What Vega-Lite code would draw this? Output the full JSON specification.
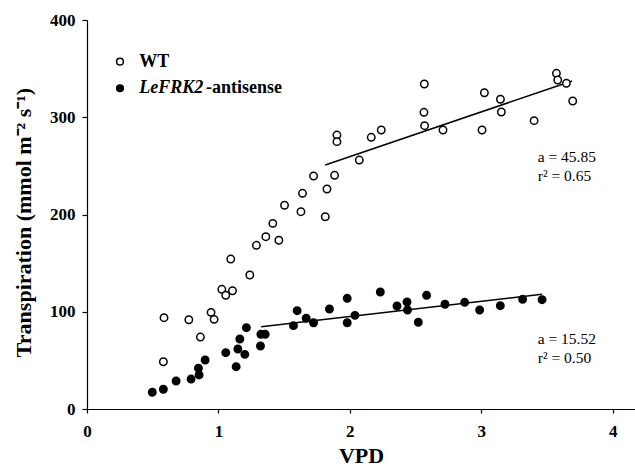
{
  "$schema": "https://vega.github.io/schema/vega-lite/v6.json",
  "autosize": "none",
  "width": 548,
  "height": 389,
  "padding": {"left": 87, "top": 20, "right": 0, "bottom": 59},
  "background": "white",
  "config": {
    "view": {"stroke": null},
    "font": "Liberation Serif",
    "axis": {
      "grid": false,
      "domainColor": "black",
      "domainWidth": 1.2,
      "tickColor": "black",
      "tickWidth": 1.2,
      "labelFont": "Liberation Serif",
      "labelFontWeight": "bold",
      "labelFontSize": 17,
      "labelColor": "black",
      "titleFont": "Liberation Serif",
      "titleFontWeight": "bold",
      "titleFontSize": 22,
      "titleColor": "black"
    }
  },
  "datasets": {
    "pts": [
      {"series": "WT", "vpd": 0.581, "trans": 48.6},
      {"series": "WT", "vpd": 0.586, "trans": 93.9},
      {"series": "WT", "vpd": 0.775, "trans": 91.8},
      {"series": "WT", "vpd": 0.863, "trans": 74.0},
      {"series": "WT", "vpd": 0.944, "trans": 99.4},
      {"series": "WT", "vpd": 0.967, "trans": 92.2},
      {"series": "WT", "vpd": 1.026, "trans": 123.1},
      {"series": "WT", "vpd": 1.056, "trans": 116.9},
      {"series": "WT", "vpd": 1.107, "trans": 121.6},
      {"series": "WT", "vpd": 1.094, "trans": 154.2},
      {"series": "WT", "vpd": 1.239, "trans": 137.8},
      {"series": "WT", "vpd": 1.289, "trans": 168.3},
      {"series": "WT", "vpd": 1.361, "trans": 177.2},
      {"series": "WT", "vpd": 1.460, "trans": 173.5},
      {"series": "WT", "vpd": 1.414, "trans": 190.9},
      {"series": "WT", "vpd": 1.503, "trans": 209.5},
      {"series": "WT", "vpd": 1.628, "trans": 202.9},
      {"series": "WT", "vpd": 1.640, "trans": 221.8},
      {"series": "WT", "vpd": 1.724, "trans": 239.6},
      {"series": "WT", "vpd": 1.813, "trans": 197.7},
      {"series": "WT", "vpd": 1.826, "trans": 226.2},
      {"series": "WT", "vpd": 1.884, "trans": 240.3},
      {"series": "WT", "vpd": 1.902, "trans": 281.7},
      {"series": "WT", "vpd": 1.902, "trans": 274.9},
      {"series": "WT", "vpd": 2.072, "trans": 256.0},
      {"series": "WT", "vpd": 2.163, "trans": 279.4},
      {"series": "WT", "vpd": 2.239, "trans": 286.9},
      {"series": "WT", "vpd": 2.567, "trans": 334.2},
      {"series": "WT", "vpd": 2.564, "trans": 305.1},
      {"series": "WT", "vpd": 2.569, "trans": 291.3},
      {"series": "WT", "vpd": 2.709, "trans": 286.9},
      {"series": "WT", "vpd": 3.006, "trans": 286.9},
      {"series": "WT", "vpd": 3.024, "trans": 325.2},
      {"series": "WT", "vpd": 3.146, "trans": 318.5},
      {"series": "WT", "vpd": 3.153, "trans": 305.4},
      {"series": "WT", "vpd": 3.402, "trans": 296.5},
      {"series": "WT", "vpd": 3.572, "trans": 345.2},
      {"series": "WT", "vpd": 3.582, "trans": 338.3},
      {"series": "WT", "vpd": 3.648, "trans": 334.9},
      {"series": "WT", "vpd": 3.696, "trans": 316.7},
      {"series": "antisense", "vpd": 0.497, "trans": 17.2},
      {"series": "antisense", "vpd": 0.581, "trans": 20.3},
      {"series": "antisense", "vpd": 0.678, "trans": 28.8},
      {"series": "antisense", "vpd": 0.792, "trans": 30.8},
      {"series": "antisense", "vpd": 0.853, "trans": 35.0},
      {"series": "antisense", "vpd": 0.848, "trans": 41.9},
      {"series": "antisense", "vpd": 0.899, "trans": 50.4},
      {"series": "antisense", "vpd": 1.056, "trans": 57.9},
      {"series": "antisense", "vpd": 1.135, "trans": 43.5},
      {"series": "antisense", "vpd": 1.148, "trans": 61.7},
      {"series": "antisense", "vpd": 1.163, "trans": 72.0},
      {"series": "antisense", "vpd": 1.201, "trans": 56.2},
      {"series": "antisense", "vpd": 1.213, "trans": 83.6},
      {"series": "antisense", "vpd": 1.320, "trans": 64.8},
      {"series": "antisense", "vpd": 1.323, "trans": 76.8},
      {"series": "antisense", "vpd": 1.356, "trans": 76.8},
      {"series": "antisense", "vpd": 1.571, "trans": 85.7},
      {"series": "antisense", "vpd": 1.599, "trans": 101.1},
      {"series": "antisense", "vpd": 1.668, "trans": 93.3},
      {"series": "antisense", "vpd": 1.724, "trans": 88.7},
      {"series": "antisense", "vpd": 1.845, "trans": 102.8},
      {"series": "antisense", "vpd": 1.980, "trans": 113.8},
      {"series": "antisense", "vpd": 1.980, "trans": 88.7},
      {"series": "antisense", "vpd": 2.039, "trans": 96.3},
      {"series": "antisense", "vpd": 2.232, "trans": 120.3},
      {"series": "antisense", "vpd": 2.359, "trans": 105.9},
      {"series": "antisense", "vpd": 2.435, "trans": 110.0},
      {"series": "antisense", "vpd": 2.439, "trans": 101.8},
      {"series": "antisense", "vpd": 2.521, "trans": 89.2},
      {"series": "antisense", "vpd": 2.584, "trans": 116.9},
      {"series": "antisense", "vpd": 2.724, "trans": 107.7},
      {"series": "antisense", "vpd": 2.874, "trans": 109.7},
      {"series": "antisense", "vpd": 2.988, "trans": 101.8},
      {"series": "antisense", "vpd": 3.145, "trans": 106.2},
      {"series": "antisense", "vpd": 3.315, "trans": 112.8},
      {"series": "antisense", "vpd": 3.463, "trans": 112.4}
    ],
    "fits": [
      {"series": "WT", "vpd": 1.813, "trans": 250.9},
      {"series": "WT", "vpd": 3.691, "trans": 337.3},
      {"series": "antisense", "vpd": 1.325, "trans": 84.6},
      {"series": "antisense", "vpd": 3.463, "trans": 117.9}
    ],
    "notes": [
      {"vpd": 3.43, "trans": 259.4, "label": "a = 45.85"},
      {"vpd": 3.43, "trans": 239.9, "label": "r² = 0.65"},
      {"vpd": 3.43, "trans": 72.0, "label": "a = 15.52"},
      {"vpd": 3.43, "trans": 52.8, "label": "r² = 0.50"}
    ],
    "legend": [
      {"series": "WT", "vpd": 0.251, "trans": 357.1, "tx": 0.398, "label": "WT", "rest": "", "rx": 0.905},
      {"series": "antisense", "vpd": 0.251, "trans": 329.8, "tx": 0.398, "label": "LeFRK2", "rest": "-antisense", "rx": 0.905}
    ]
  },
  "encoding": {
    "x": {
      "field": "vpd", "type": "quantitative",
      "scale": {"domain": [0, 4.17], "nice": false, "zero": false},
      "axis": {"title": "VPD", "values": [0, 1, 2, 3, 4], "tickSize": 4, "labelPadding": 10, "titlePadding": 6, "labelFlush": false}
    },
    "y": {
      "field": "trans", "type": "quantitative",
      "scale": {"domain": [0, 400], "nice": false},
      "axis": {"title": "Transpiration (mmol m⁻² s⁻¹)", "values": [0, 100, 200, 300, 400], "tickSize": 5, "labelPadding": 7, "titlePadding": 14, "titleY": 202}
    }
  },
  "layer": [
    {
      "data": {"name": "fits"},
      "mark": {"type": "line", "color": "black", "strokeWidth": 1.5},
      "encoding": {"detail": {"field": "series"}}
    },
    {
      "data": {"name": "pts"},
      "mark": {"type": "point", "shape": "circle", "size": 55, "strokeWidth": 1.5, "stroke": "black", "opacity": 1, "filled": false},
      "encoding": {
        "fill": {"field": "series", "type": "nominal", "scale": {"domain": ["WT", "antisense"], "range": ["white", "black"]}, "legend": null}
      }
    },
    {
      "data": {"name": "legend"},
      "mark": {"type": "point", "shape": "circle", "size": 45, "strokeWidth": 1.5, "stroke": "black", "opacity": 1, "filled": false},
      "encoding": {
        "fill": {"field": "series", "type": "nominal", "scale": {"domain": ["WT", "antisense"], "range": ["white", "black"]}, "legend": null}
      }
    },
    {
      "data": {"name": "legend"},
      "mark": {"type": "text", "align": "left", "baseline": "middle", "fontSize": 18, "fontWeight": "bold", "fontStyle": {"expr": "datum.series === 'WT' ? 'normal' : 'italic'"}, "font": "Liberation Serif", "color": "black"},
      "encoding": {
        "x": {"field": "tx", "type": "quantitative"},
        "text": {"field": "label"}
      }
    },
    {
      "data": {"name": "legend"},
      "mark": {"type": "text", "align": "left", "baseline": "middle", "fontSize": 18, "fontWeight": "bold", "font": "Liberation Serif", "color": "black"},
      "encoding": {
        "x": {"field": "rx", "type": "quantitative"},
        "text": {"field": "rest"}
      }
    },
    {
      "data": {"name": "notes"},
      "mark": {"type": "text", "align": "left", "baseline": "middle", "fontSize": 15.5, "font": "Liberation Serif", "color": "black"},
      "encoding": {"text": {"field": "label"}}
    }
  ]
}
